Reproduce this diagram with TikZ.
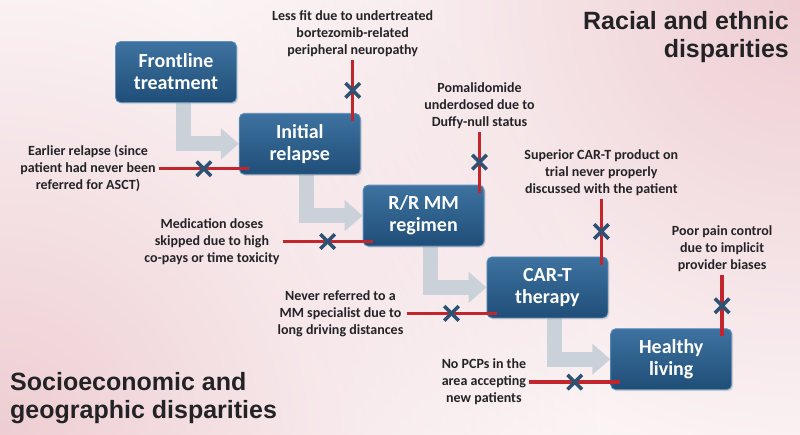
\documentclass[tikz,border=0pt]{standalone}
\usepackage{fontspec}
\setmainfont{Carlito}
\newfontfamily\headfont{Liberation Sans}
\usepackage{xcolor}
\usetikzlibrary{arrows.meta,positioning,calc,backgrounds,fadings,shadows,shapes.misc}
\definecolor{ink}{RGB}{35,35,38}
\definecolor{blush}{RGB}{238,206,211}
\definecolor{boxtop}{RGB}{62,114,160}
\definecolor{boxbot}{RGB}{31,78,120}
\definecolor{boxrim}{RGB}{98,146,188}
\definecolor{pathgray}{RGB}{203,209,217}
\definecolor{hazard}{RGB}{192,38,44}
\definecolor{crossblue}{RGB}{46,82,116}
\tikzfading[name=cornerfade,inner color=transparent!0,outer color=transparent!100]
\tikzset{
  stage/.style={draw=boxrim,line width=0.8pt,top color=boxtop,bottom color=boxbot,
    rounded corners=5pt,minimum width=121pt,minimum height=61pt,align=center,
    text=white,font=\bfseries\fontsize{20}{22}\selectfont,
    drop shadow={opacity=0.25,shadow xshift=1.5pt,shadow yshift=-1.5pt}},
  flow/.style={line width=15pt,pathgray,-{Triangle[length=18pt,width=30pt]}},
  barrier/.style={line width=3.5pt,hazard},
  xmark/.style={cross out,draw=crossblue,line width=3.5pt,minimum size=11pt,inner sep=0pt},
  note/.style={align=center,text=ink,inner sep=3pt,font=\bfseries\fontsize{14}{17}\selectfont},
  headline/.style={text=ink,inner sep=0pt,font=\headfont\bfseries\fontsize{25}{28}\selectfont}
}
\begin{document}
\begin{tikzpicture}[x=1pt,y=-1pt]
  \useasboundingbox (0,0) rectangle (800,434);
  % stages
  \node[stage] (F) at (176,72) {Frontline\\treatment};
  \node[stage,below right=10pt and 2pt of F] (I) {Initial\\relapse};
  \node[stage,below right=10pt and 2pt of I] (R) {R/R MM\\regimen};
  \node[stage,below right=10pt and 2pt of R] (C) {CAR-T\\therapy};
  \node[stage,below right=10pt and 2pt of C] (H) {Healthy\\living};
  \begin{scope}[on background layer]
    \fill[white] (0,0) rectangle (800,434);
    \begin{scope}
      \clip (0,0) rectangle (800,434);
      \fill[blush,path fading=cornerfade] (800,0) circle (600);
      \fill[blush,path fading=cornerfade] (0,434) circle (600);
    \end{scope}
    \foreach \a/\b in {F/I,I/R,R/C,C/H} {\draw[flow] ([xshift=7pt]\a.south) |- (\b.west);}
  \end{scope}
  % titles
  \node[headline,align=right,anchor=north east] (racial) at (789,11) {Racial and ethnic\\disparities};
  \node[headline,align=left,anchor=north west] (socio) at (10,372) {Socioeconomic and\\geographic disparities};
  % socioeconomic barriers (left)
  \node[note,left=80pt of I.south west,yshift=6pt] (s1) {Earlier relapse (since\\patient had never been\\referred for ASCT)};
  \node[note,left=80pt of R.south west,yshift=5pt] (s2) {Medication doses\\skipped due to high\\co-pays or time toxicity};
  \node[note,left=80pt of C.south west,yshift=5pt] (s3) {Never referred to a\\MM specialist due to\\long driving distances};
  \node[note,left=81pt of H.south west,yshift=8pt] (s4) {No PCPs in the\\area accepting\\new patients};
  \foreach \n/\b in {s1/I,s2/R,s3/C,s4/H} {\draw[barrier] (\n.east) -- ([xshift=10pt]\n.east -| \b.west) node[xmark,midway]{};}
  % racial barriers (top)
  \node[note,above=53pt of I.north east,xshift=-8pt] (r1) {Less fit due to undertreated\\bortezomib-related\\peripheral neuropathy};
  \node[note,above=53pt of R.north east,xshift=-5pt] (r2) {Pomalidomide\\underdosed due to\\Duffy-null status};
  \node[note,above=58pt of C.north east,xshift=-7pt] (r3) {Superior CAR-T product on\\trial never properly\\discussed with the patient};
  \node[note,above=53pt of H.north east,xshift=-10pt] (r4) {Poor pain control\\due to implicit\\provider biases};
  \foreach \n/\b in {r1/I,r2/R,r3/C,r4/H} {\draw[barrier] (\n.south) -- ([yshift=-8pt]\n.south |- \b.north) node[xmark,midway]{};}
\end{tikzpicture}
\end{document}
